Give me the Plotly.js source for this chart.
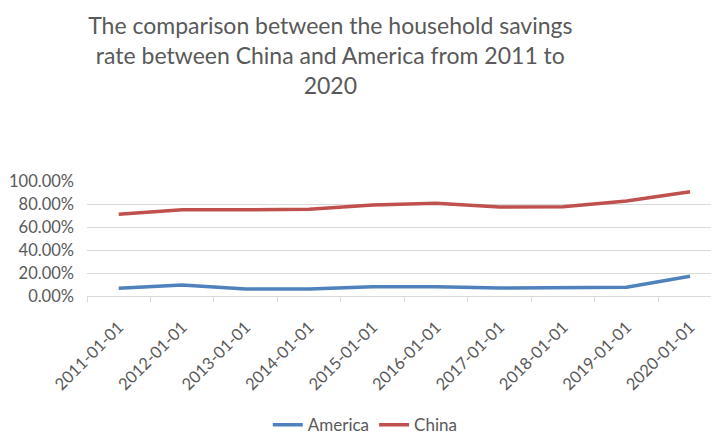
<!DOCTYPE html>
<html>
<head>
<meta charset="utf-8">
<script src="https://cdn.plot.ly/plotly-3.0.1.min.js"></script>
<style>html,body{margin:0;padding:0;background:#fff;}#chart{width:711px;height:437px;}</style>
</head>
<body>
<div id="chart"></div>
<script>
var categories = ["2011-01-01","2012-01-01","2013-01-01","2014-01-01","2015-01-01","2016-01-01","2017-01-01","2018-01-01","2019-01-01","2020-01-01"];
var america = [6.8, 9.6, 6.0, 6.0, 8.0, 8.0, 6.9, 7.6, 7.6, 17.1];
var china = [71.0, 75.0, 75.0, 75.4, 79.1, 80.6, 77.4, 77.7, 82.6, 90.7];
var yTicks = [0, 20, 40, 60, 80, 100];
var yTickLabels = ["0.00%", "20.00%", "40.00%", "60.00%", "80.00%", "100.00%"];

var font = "Lato, 'Open Sans', sans-serif";
var grey = "#595959";

var traces = [
  {x: categories, y: america, name: "America", type: "scatter", mode: "lines",
   line: {color: "#4F81BD", width: 3.5}},
  {x: categories, y: china, name: "China", type: "scatter", mode: "lines",
   line: {color: "#C0504D", width: 3.5}}
];

var layout = {
  width: 711, height: 437,
  margin: {l: 87, r: 0, t: 181, b: 141, autoexpand: false},
  paper_bgcolor: "#fff", plot_bgcolor: "#fff",
  font: {family: font, color: grey, size: 14},
  title: {
    text: "The comparison between the household savings<br>rate between China and America from 2011 to<br>2020",
    font: {family: font, size: 23, color: grey},
    x: 0.39, xref: "paper", xanchor: "center",
    y: 0.922, yref: "container", yanchor: "middle"
  },
  xaxis: {
    type: "category", range: [-0.5, 9.33],
    tickangle: -45, tickson: "boundaries", ticks: "outside", ticklen: 5,
    tickcolor: "#d9d9d9", showline: true, linecolor: "#d9d9d9", linewidth: 1,
    showgrid: false, ticklabelstandoff: 14, automargin: false,
    tickfont: {family: font, size: 16.5, color: grey},
    fixedrange: true
  },
  yaxis: {
    range: [0, 100], tickvals: yTicks, ticktext: yTickLabels,
    showgrid: true, gridcolor: "#d9d9d9", gridwidth: 1, zeroline: false,
    showline: false, ticks: "", ticklabelstandoff: 12, automargin: false,
    tickfont: {family: font, size: 16.5, color: grey}
  },
  showlegend: true,
  legend: {
    orientation: "h", x: 0.446, xanchor: "center",
    y: 0.027, yref: "container", yanchor: "middle",
    font: {family: font, size: 17, color: grey}, itemwidth: 30, tracegroupgap: 0
  }
};

Plotly.newPlot("chart", traces, layout, {displayModeBar: false, staticPlot: true});
</script>
</body>
</html>
